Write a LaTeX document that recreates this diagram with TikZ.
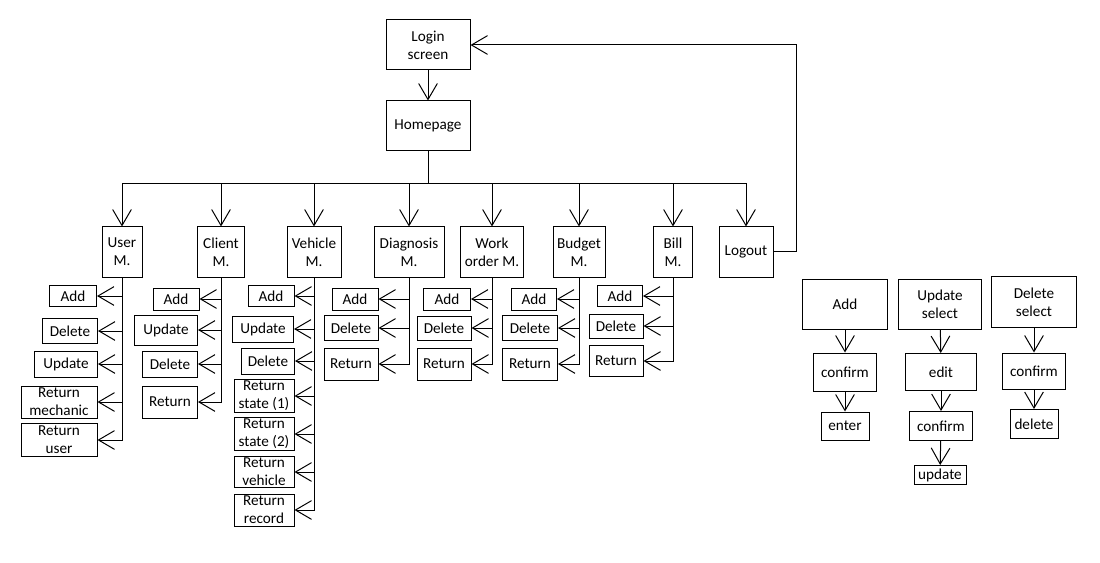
\documentclass[tikz,border=0pt]{standalone}
\usepackage{fontspec}
\setmainfont{Carlito}
\usetikzlibrary{arrows.meta}
\tikzset{
  n/.style={draw, line width=0.75pt, align=center, font=\fontsize{11.4}{13.5}\selectfont, inner sep=0pt},
  sz/.style 2 args={minimum width=#1*0.75pt, minimum height=#2*0.75pt},
  a/.style={-{Straight Barb[length=12pt, width=14pt]}, line width=0.75pt},
}
\begin{document}
\begin{tikzpicture}[x=0.75pt, y=-0.75pt]
\useasboundingbox (0,0) rectangle (1100,563);
% main flow
\node[n, sz={84}{50}] (login) at (428,45)  {Login\\screen};
\node[n, sz={84}{50}] (home)  at (428,126) {Homepage};
\coordinate (bus) at (428,184);

\node[n, sz={40}{50}] (user)    at (122,252) {User\\M.};
\node[n, sz={47}{50}] (client)  at (221,252) {Client\\M.};
\node[n, sz={54}{50}] (vehicle) at (314,252) {Vehicle\\M.};
\node[n, sz={70}{50}] (diag)    at (409,252) {Diagnosis\\M.};
\node[n, sz={63}{50}] (work)    at (492,252) {Work\\order M.};
\node[n, sz={52}{50}] (budget)  at (579,252) {Budget\\M.};
\node[n, sz={39}{50}] (bill)    at (673,252) {Bill\\M.};
\node[n, sz={54}{50}] (logout)  at (746,252) {Logout};

% user
\node[n, sz={47}{21}] (uadd)  at (73,296) {Add};
\node[n, sz={55}{25}] (udel)  at (70,331) {Delete};
\node[n, sz={63}{26}] (uupd)  at (66,364) {Update};
\node[n, sz={76}{32}] (uretm) at (59,402) {Return\\mechanic};
\node[n, sz={76}{33}] (uretu) at (59,440) {Return\\user};
% client
\node[n, sz={46}{22}] (cadd) at (176,299) {Add};
\node[n, sz={63}{30}] (cupd) at (166,330) {Update};
\node[n, sz={55}{26}] (cdel) at (170,364) {Delete};
\node[n, sz={55}{32}] (cret) at (170,402) {Return};
% vehicle
\node[n, sz={46}{21}] (vadd) at (271,296) {Add};
\node[n, sz={61}{26}] (vupd) at (263,329) {Update};
\node[n, sz={53}{26}] (vdel) at (268,361) {Delete};
\node[n, sz={60}{33}] (vrs1) at (264,396) {Return\\state (1)};
\node[n, sz={60}{33}] (vrs2) at (264,434) {Return\\state (2)};
\node[n, sz={60}{31}] (vrv)  at (264,472) {Return\\vehicle};
\node[n, sz={60}{32}] (vrr)  at (264,510) {Return\\record};
% diagnosis
\node[n, sz={46}{22}] (dadd) at (355,299) {Add};
\node[n, sz={54}{25}] (ddel) at (351,328) {Delete};
\node[n, sz={54}{32}] (dret) at (351,364) {Return};
% work order
\node[n, sz={47}{22}] (wadd) at (447,299) {Add};
\node[n, sz={54}{24}] (wdel) at (444,328) {Delete};
\node[n, sz={54}{32}] (wret) at (444,364) {Return};
% budget
\node[n, sz={45}{22}] (badd) at (534,299) {Add};
\node[n, sz={55}{25}] (bdel) at (530,328) {Delete};
\node[n, sz={55}{32}] (bret) at (530,364) {Return};
% bill
\node[n, sz={45}{21}] (ladd) at (620,296) {Add};
\node[n, sz={54}{24}] (ldel) at (616,326) {Delete};
\node[n, sz={54}{31}] (lret) at (616,361) {Return};

% generic actions
\node[n, sz={85}{50}] (padd)  at (845,304)  {Add};
\node[n, sz={63}{38}] (pconf) at (845,372)  {confirm};
\node[n, sz={48}{28}] (pent)  at (845,426)  {enter};
\node[n, sz={83}{50}] (qupd)  at (940,304)  {Update\\select};
\node[n, sz={71}{37}] (qedit) at (941,372)  {edit};
\node[n, sz={63}{29}] (qconf) at (941,426)  {confirm};
\node[n, sz={52}{19}] (qdo)   at (940,475)  {update};
\node[n, sz={85}{51}] (rdel)  at (1034,302) {Delete\\select};
\node[n, sz={63}{36}] (rconf) at (1034,371) {confirm};
\node[n, sz={48}{29}] (rdo)   at (1034,424) {delete};

\draw[a] (login) -- (home);
\draw (home.south) -- (bus);
\draw[a] (bus) -| (user.north);
\draw[a] (bus) -| (client.north);
\draw[a] (bus) -| (vehicle.north);
\draw[a] (bus) -| (diag.north);
\draw[a] (bus) -| (work.north);
\draw[a] (bus) -| (budget.north);
\draw[a] (bus) -| (bill.north);
\draw[a] (bus) -| (logout.north);
\draw[a] (logout.east) -- ++(23,0) |- (login.east);

\draw[a] (user.south) |- (uadd.east);
\draw[a] (user.south) |- (udel.east);
\draw[a] (user.south) |- (uupd.east);
\draw[a] (user.south) |- (uretm.east);
\draw[a] (user.south) |- (uretu.east);

\draw[a] (client.south) |- (cadd.east);
\draw[a] (client.south) |- (cupd.east);
\draw[a] (client.south) |- (cdel.east);
\draw[a] (client.south) |- (cret.east);

\draw[a] (vehicle.south) |- (vadd.east);
\draw[a] (vehicle.south) |- (vupd.east);
\draw[a] (vehicle.south) |- (vdel.east);
\draw[a] (vehicle.south) |- (vrs1.east);
\draw[a] (vehicle.south) |- (vrs2.east);
\draw[a] (vehicle.south) |- (vrv.east);
\draw[a] (vehicle.south) |- (vrr.east);

\draw[a] (diag.south) |- (dadd.east);
\draw[a] (diag.south) |- (ddel.east);
\draw[a] (diag.south) |- (dret.east);

\draw[a] (work.south) |- (wadd.east);
\draw[a] (work.south) |- (wdel.east);
\draw[a] (work.south) |- (wret.east);

\draw[a] (budget.south) |- (badd.east);
\draw[a] (budget.south) |- (bdel.east);
\draw[a] (budget.south) |- (bret.east);

\draw[a] (bill.south) |- (ladd.east);
\draw[a] (bill.south) |- (ldel.east);
\draw[a] (bill.south) |- (lret.east);

\draw[a] (padd) -- (pconf);
\draw[a] (pconf) -- (pent);
\draw[a] (qupd) -- (qedit);
\draw[a] (qedit) -- (qconf);
\draw[a] (qconf) -- (qdo);
\draw[a] (rdel) -- (rconf);
\draw[a] (rconf) -- (rdo);
\end{tikzpicture}
\end{document}
